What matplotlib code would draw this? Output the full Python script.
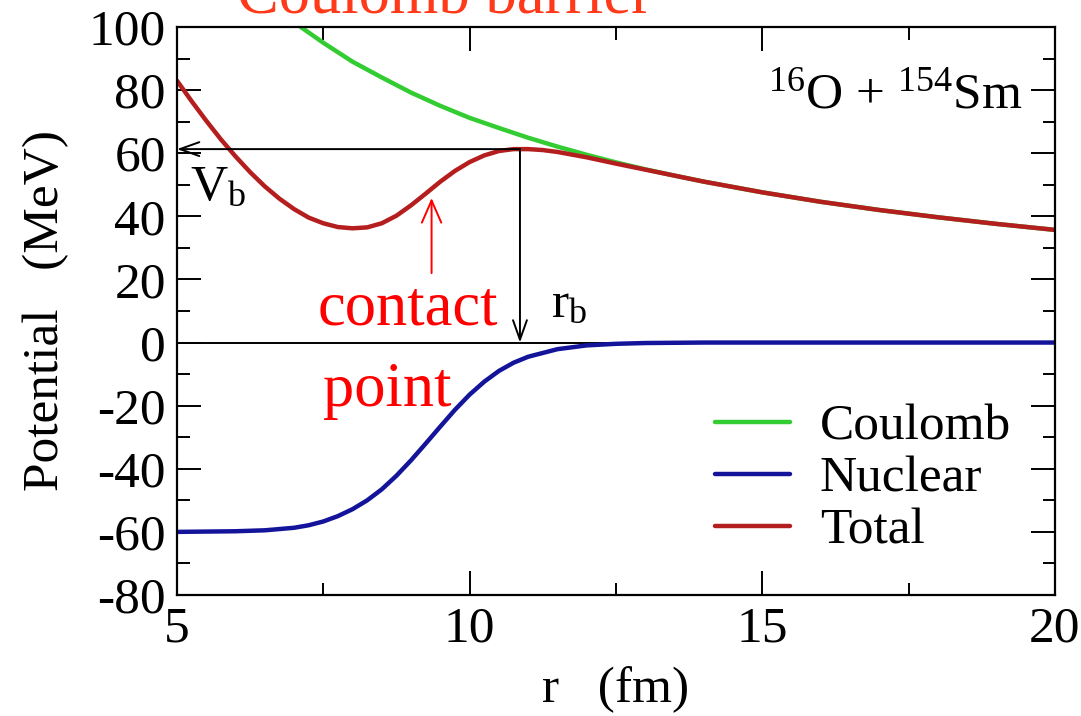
import matplotlib
matplotlib.use("Agg")
import matplotlib.pyplot as plt

plt.rcParams['font.family'] = ['Liberation Serif', 'DejaVu Serif']
plt.rcParams['mathtext.fontset'] = 'custom'
plt.rcParams['mathtext.rm'] = 'Liberation Serif'
plt.rcParams['mathtext.it'] = 'Liberation Serif:italic'
plt.rcParams['axes.unicode_minus'] = False

# Coulomb potential (MeV) vs r (fm)
r_coul = [7.0, 7.5, 8.0, 8.5, 9.0, 9.5, 10.0, 10.5, 11.0, 11.5, 12.0, 12.5,
          13.0, 13.5, 14.0, 15.0, 16.0, 17.0, 18.0, 19.0, 20.0]
v_coul = [101.5, 95.0, 89.0, 84.0, 79.2, 75.0, 71.2, 68.0, 64.9, 62.1, 59.5, 57.1,
          54.9, 52.9, 51.0, 47.6, 44.6, 42.0, 39.7, 37.6, 35.7]

# Nuclear (Woods-Saxon shaped) potential
r_nuc = [5.0, 5.5, 6.0, 6.5, 7.0, 7.25, 7.5, 7.75, 8.0, 8.25, 8.5, 8.75, 9.0,
         9.25, 9.5, 9.75, 10.0, 10.25, 10.5, 10.75, 11.0, 11.5, 12.0, 12.5,
         13.0, 14.0, 16.0, 18.0, 20.0]
v_nuc = [-60.0, -59.9, -59.8, -59.5, -58.7, -57.9, -56.7, -55.0, -52.8, -50.0,
         -46.5, -42.2, -37.3, -32.0, -26.6, -21.3, -16.5, -12.4, -9.0, -6.4,
         -4.5, -2.1, -0.9, -0.4, -0.15, 0.0, 0.0, 0.0, 0.0]

# Total potential
r_tot = [5.0, 5.25, 5.5, 5.75, 6.0, 6.25, 6.5, 6.75, 7.0, 7.25, 7.5, 7.75, 8.0,
         8.25, 8.5, 8.75, 9.0, 9.25, 9.5, 9.75, 10.0, 10.25, 10.5, 10.75, 11.0,
         11.25, 11.5, 12.0, 12.5, 13.0, 13.5, 14.0, 15.0, 16.0, 17.0, 18.0,
         19.0, 20.0]
v_tot = [83.0, 76.5, 70.3, 64.4, 59.0, 54.0, 49.5, 45.6, 42.3, 39.6, 37.8, 36.6,
         36.2, 36.5, 37.8, 40.2, 43.5, 47.2, 51.0, 54.4, 57.2, 59.3, 60.7, 61.3,
         61.3, 61.0, 60.4, 58.7, 56.7, 54.8, 52.9, 51.0, 47.6, 44.6, 42.0, 39.7,
         37.6, 35.7]

r_b = 10.86   # barrier radius
V_b = 61.3    # barrier height
r_contact = 9.35

fig = plt.figure(figsize=(10.81, 7.16), dpi=100)
ax = fig.add_axes([0.1637, 0.1690, 0.8122, 0.7933])

ax.plot(r_coul, v_coul, color='#33cc33', lw=3.2, label='Coulomb', solid_capstyle='round')
ax.plot(r_nuc, v_nuc, color='#14149a', lw=3.2, label='Nuclear', solid_capstyle='round')
ax.plot(r_tot, v_tot, color='#b41e1e', lw=3.2, label='Total', solid_capstyle='round')

ax.axhline(0, color='black', lw=1.4, zorder=1)

# barrier arrows
ax.annotate('', xy=(5.0, V_b), xytext=(r_b, V_b),
            arrowprops=dict(arrowstyle='->,head_length=1.4,head_width=0.5',
                            color='black', lw=1.4, shrinkA=0, shrinkB=0))
ax.annotate('', xy=(r_b, 0), xytext=(r_b, V_b),
            arrowprops=dict(arrowstyle='->,head_length=1.4,head_width=0.5',
                            color='black', lw=1.4, shrinkA=0, shrinkB=0))
ax.annotate('', xy=(r_contact, 45.8), xytext=(r_contact, 22.0),
            arrowprops=dict(arrowstyle='->,head_length=1.6,head_width=0.7',
                            color='#ff0000', lw=1.4, shrinkA=0, shrinkB=0))

ax.text(5.22, 45.2, r'$\mathrm{V}_\mathrm{b}$', fontsize=37, va='baseline')
ax.text(11.39, 8.1, r'$\mathrm{r}_\mathrm{b}$', fontsize=37, va='baseline')
ax.text(7.41, 5.6, 'contact', fontsize=45, color='#ff0000', va='baseline')
ax.text(7.5, -20.0, 'point', fontsize=45, color='#ff0000', va='baseline')
ax.text(19.44, 74.6, r'$^{16}\mathrm{O}$ + $^{154}\mathrm{Sm}$', fontsize=37,
        ha='right', va='baseline')

fig.text(237 / 1081, 1 - 13 / 716, 'Coulomb barrier', fontsize=45,
         color='#ff3a1a', va='baseline')

ax.set_xlim(5, 20)
ax.set_ylim(-80, 100)
ax.set_xticks([5, 10, 15, 20])
ax.set_xticks([7.5, 12.5, 17.5], minor=True)
ax.set_yticks(range(-80, 101, 20))
ax.set_yticks(range(-70, 100, 20), minor=True)
ax.tick_params(which='major', direction='in', length=17, width=1.4,
               top=True, right=True, labelsize=37, pad=8)
ax.tick_params(which='minor', direction='in', length=9, width=1.4,
               top=True, right=True)
for s in ax.spines.values():
    s.set_linewidth(1.6)

ax.set_xlabel('r   (fm)', fontsize=37, labelpad=10)
ax.set_ylabel('Potential   (MeV)', fontsize=37, labelpad=14)

ax.legend(loc='center left', bbox_to_anchor=(0.613, 0.204), frameon=False,
          fontsize=37, handlelength=1.46, handletextpad=0.58,
          labelspacing=0.1, borderpad=0, borderaxespad=0)

fig.savefig('out.png', dpi=100)
